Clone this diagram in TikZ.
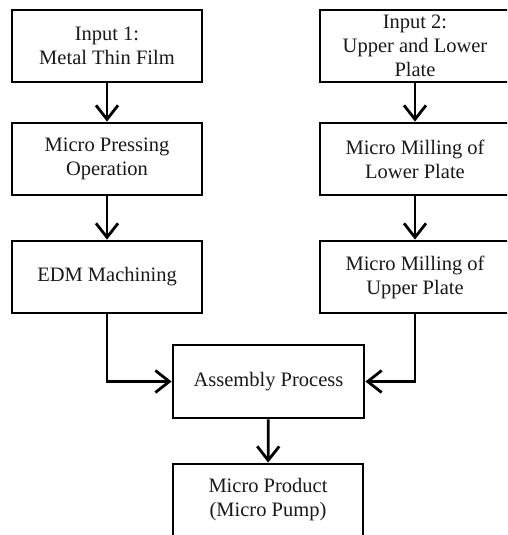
\documentclass[tikz,border=0pt]{standalone}
\usepackage{fontspec}
\setmainfont{Liberation Serif}
\usetikzlibrary{arrows.meta}
\begin{document}
\begin{tikzpicture}[x=1pt,y=-1pt,
 box/.style={draw=black, line width=2.8pt, minimum width=190pt, minimum height=72pt, inner sep=0pt, align=center, text=black!90, font=\fontsize{20.5}{24}\selectfont},
 conn/.style={line width=2.8pt, -{Straight Barb[length=14pt,width=22pt]}}]
\useasboundingbox (0,0) rectangle (507,535);
\fill[white] (0,0) rectangle (507,535);
\begin{scope}
\clip (0,0) rectangle (507,535);
\node[box] (in1) at (107,46) {Input 1:\\Metal Thin Film};
\node[box] (in2) at (415,46) {Input 2:\\Upper and Lower\\Plate};
\node[box] (press) at (107,159) {Micro Pressing\\Operation};
\node[box] (millL) at (415,159) {Micro Milling of\\Lower Plate};
\node[box] (edm) at (107,277) {EDM Machining};
\node[box] (millU) at (415,277) {Micro Milling of\\Upper Plate};
\node[box, minimum width=191pt, minimum height=73pt] (asm) at (268.5,381.5) {Assembly Process};
\node[box] (prod) at (268,500) {Micro Product\\(Micro Pump)};
\draw[conn] (in1) -- (press);
\draw[conn] (press) -- (edm);
\draw[conn] (in2) -- (millL);
\draw[conn] (millL) -- (millU);
\draw[conn] (edm.south) |- (asm.west);
\draw[conn] (millU.south) |- (asm.east);
\draw[conn] (asm) -- (prod);
\end{scope}
\end{tikzpicture}
\end{document}
